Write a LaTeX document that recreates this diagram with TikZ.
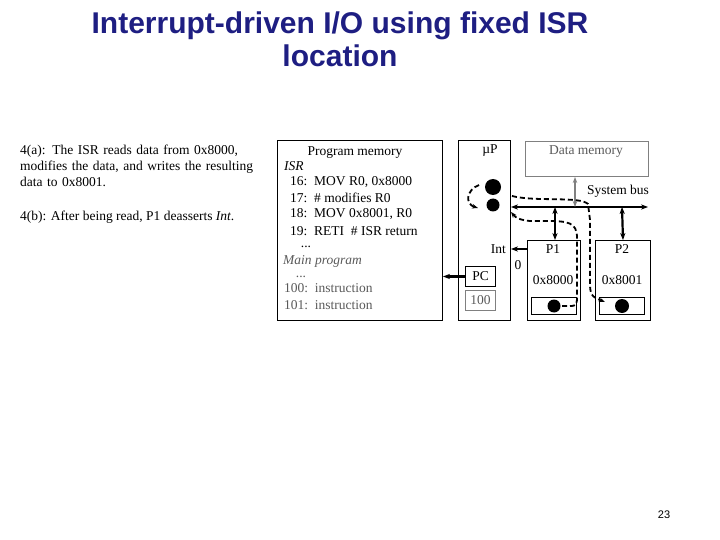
\documentclass[tikz,border=0pt]{standalone}
\usepackage{fontspec}
\setmainfont{Liberation Serif}
\newfontfamily\sansf{Liberation Sans}
\usetikzlibrary{arrows.meta}
\definecolor{navy}{RGB}{30,30,130}
\begin{document}
\begin{tikzpicture}[x=1pt,y=-1pt,
  box/.style={draw,line width=1pt},
  gbox/.style={draw=gray,line width=1pt},
  txt/.style={font=\fontsize{13.5}{16}\selectfont,inner sep=0},
  bus/.style={line width=2.2pt,{Stealth[length=7pt]}-{Stealth[length=7pt]}},
  dsh/.style={line width=1.8pt,dash pattern=on 5pt off 3pt,-{Stealth[length=6pt]}}]
\useasboundingbox (0,0) rectangle (720,540);
\node[font=\sansf\bfseries\fontsize{30}{33}\selectfont,align=center,text=navy] (title) at (340,39) {Interrupt-driven I/O using fixed ISR\\location};
\node[txt,anchor=north west,align=left,text width=235pt] (t1) at (20,145) {\raggedright 4(a): The ISR reads data from 0x8000, modifies the data, and writes the resulting data to 0x8001.};
\node[txt,anchor=north west] (t2) at (20,211) {4(b): After being read, P1 deasserts \textit{Int}.};
% program memory
\node[box,minimum width=165pt,minimum height=180pt,anchor=north west] (pm) at (277,140) {};
\node[txt] (pmt) at (355,153) {Program memory};
\node[txt,anchor=west] (isr) at (284,166) {\textit{ISR}};
\node[txt,anchor=west] (l16) at (290,182) {16:\ \ MOV R0, 0x8000};
\node[txt,anchor=west] (l17) at (290,198) {17:\ \ \# modifies R0};
\node[txt,anchor=west] (l18) at (290,214) {18:\ \ MOV 0x8001, R0};
\node[txt,anchor=west] (l19) at (290,231) {19:\ \ RETI\ \ \# ISR return};
\node[txt] (d1) at (306,247) {...};
\node[txt,anchor=west,text=gray!70!black] (mp) at (283,261) {\textit{Main program}};
\node[txt,text=gray!70!black] (d2) at (301,277) {...};
\node[txt,anchor=west,text=gray!70!black] (l100) at (284,288) {100:\ \ instruction};
\node[txt,anchor=west,text=gray!70!black] (l101) at (284,305) {101:\ \ instruction};
% microprocessor
\node[box,minimum width=52pt,minimum height=180pt,anchor=north west] (up) at (458,140) {};
\node[txt] (upt) at (490,151) {\textmu P};
\node[box,minimum width=30pt,minimum height=20pt,anchor=north west,inner sep=0] (pc) at (465,266) {};
\node[txt] at (pc) {PC};
\node[gbox,minimum width=30pt,minimum height=20pt,anchor=north west,inner sep=0] (pcv) at (465,290) {};
\node[txt,text=gray!70!black] at (pcv) {100};
\draw[line width=2.2pt,-{Stealth[length=7pt]}] (pc.west) -- (pc.west -| pm.east);
\fill (493,187) circle (8);
\fill (493,205) circle (6.5);
\draw[line width=1.8pt,dash pattern=on 5pt off 3pt,-{Stealth[length=6pt]}] (479,185) .. controls (466,190) and (465,204) .. (478,208);
% data memory & bus
\node[gbox,minimum width=123pt,minimum height=35pt,anchor=north west] (dm) at (525,141) {};
\node[txt,text=gray!70!black] at (586,152) {Data memory};
\node[txt] (sb) at (618,191) {System bus};
\coordinate (bl) at (511,207);
\coordinate (br) at (648,207);
\draw[bus] (bl) -- (br);
\draw[line width=2.2pt,gray,{Stealth[length=6pt]}-{Stealth[length=6pt]}] (dm.south -| 575,0) -- (575,207);
% P1 P2
\node[box,minimum width=53pt,minimum height=80pt,anchor=north west] (p1) at (527,240) {};
\node[box,minimum width=55pt,minimum height=80pt,anchor=north west] (p2) at (595,240) {};
\node[txt] at (553,249) {P1};
\node[txt] at (622,249) {P2};
\node[txt] at (553,280) {0x8000};
\node[txt] at (622,280) {0x8001};
\node[box,minimum width=45pt,minimum height=17pt,anchor=north west,inner sep=0] (r1) at (531,297) {};
\node[box,minimum width=45pt,minimum height=17pt,anchor=north west,inner sep=0] (r2) at (599,297) {};
\fill (r1.center) circle (6.5);
\fill (r2.center) circle (7);
\draw[bus] (555,207) -- (p1.north -| 555,0);
\draw[bus] (622,207) -- (p2.north);
\draw[line width=2.2pt,-{Stealth[length=7pt]}] (p1.west |- 0,249) -- (up.east |- 0,249);
\node[txt,anchor=east] at (506,249) {Int};
\node[txt] at (518,265) {0};
% dashed data paths
\draw[dsh] (512,196) .. controls (535,202) and (580,196) .. (588,204) -- (590,220) -- (590,285) .. controls (590,297) and (595,298) .. (605,302);
\draw[dsh] (562,306) -- (570,306) .. controls (577,306) and (577,304) .. (577,295) -- (577,238) .. controls (577,222) and (568,221) .. (545,221) -- (530,221) .. controls (520,220) and (516,218) .. (511,212);
\node[font=\sansf\fontsize{11}{13}\selectfont] (pg) at (664,515) {23};
\end{tikzpicture}
\end{document}
